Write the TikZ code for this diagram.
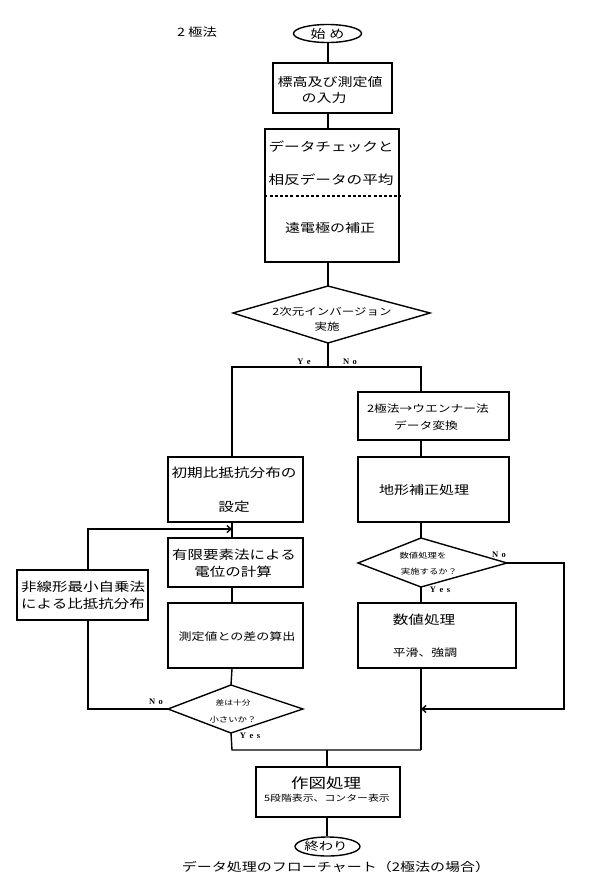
\documentclass[tikz,border=0pt]{standalone}
\usepackage{fontspec}
\setmainfont{Noto Sans CJK JP}
\newfontfamily\jpf[FakeStretch=1.25]{Noto Sans CJK JP}
\newfontfamily\latf{Liberation Serif}
\usetikzlibrary{arrows.meta,shapes.geometric}
\newcommand\fsz[1]{\fontsize{#1pt}{#1pt}\selectfont}
\newcommand\gp{\hspace{3.5pt}}
\begin{document}
\begin{tikzpicture}[x=1pt,y=-1pt,
  ln/.style={line width=1.4pt},
  bx/.style={draw, line width=1.4pt, inner sep=0pt},
  tx/.style={inner sep=0pt, font={\jpf\fsz{#1}}},
  lb/.style={inner sep=0pt, font={\latf\bfseries\fsz{8.5}}},
  arr/.style={-{Straight Barb[length=4pt,width=7pt]}}]
\fill[white] (0,0) rectangle (596,896);
\useasboundingbox (0,0) rectangle (596,896);
% column / level coordinates
\coordinate (cM) at (328,0);
\coordinate (cL) at (232,0);
\coordinate (cR) at (421,0);
\coordinate (cN) at (88,0);
\coordinate (cE) at (327,0);
\coordinate (cF) at (564,0);
\coordinate (ySp) at (0,367);
\coordinate (yLp) at (0,529);
\coordinate (yAr) at (0,709);
\coordinate (yMg) at (0,750);
\coordinate (yDs) at (0,196);
% title
\node[tx=11.5] (title) at (197,32) {2 極法};
% start
\node[bx, ellipse, minimum width=68pt, minimum height=18pt] (st) at (327.5,33.5) {};
\node[tx=12] (stt) at (327.5,33.5) {始\hspace{4pt}め};
% input box
\node[bx, minimum width=119pt, minimum height=50pt] (b1) at (332.5,88) {};
\node[tx=12] (b1a) at (330,82) {標高及び測定値};
\node[tx=12] (b1b) at (324,98) {の入力};
% check box
\node[bx, minimum width=134pt, minimum height=133pt] (b2) at (332,195.5) {};
\node[tx=12.5] (b2a) at (331,147) {データチェックと};
\node[tx=12.5] (b2b) at (331,180) {相反データの平均};
\node[tx=12] (b2c) at (330,228) {遠電極の補正};
\draw[ln, dash pattern=on 3pt off 2.2pt] (b2.west |- yDs) -- (b2.east |- yDs);
% decision 1
\coordinate (d1t) at (328,286);
\coordinate (d1r) at (430,313);
\coordinate (d1b) at (328,343);
\coordinate (d1l) at (233,313);
\draw[ln] (d1t) -- (d1r) -- (d1b) -- (d1l) -- cycle;
\node[tx=10] (d1x) at (332,312) {2次元インバージョン};
\node[tx=10] (d1y) at (327,327) {実施};
\node[lb] (ye) at (304,362) {Y\gp e};
\node[lb] (no1) at (350,362) {N\gp o};
% right column
\node[bx, minimum width=151pt, minimum height=48pt] (r1) at (433.5,416) {};
\node[tx=10.2] (r1a) at (428,409) {2極法→ウエンナー法};
\node[tx=10.2] (r1b) at (426,426) {データ変換};
\node[bx, minimum width=151pt, minimum height=65pt] (r2) at (433.5,489.5) {};
\node[tx=12] (r2a) at (424,490) {地形補正処理};
\coordinate (d2t) at (421,538);
\coordinate (d2r) at (507,563);
\coordinate (d2b) at (421,587);
\coordinate (d2l) at (358,563);
\draw[ln] (d2t) -- (d2r) -- (d2b) -- (d2l) -- cycle;
\node[tx=7.5] (d2x) at (423,556) {数値処理を};
\node[tx=7.5] (d2y) at (429,572) {実施するか？};
\node[lb] (no2) at (499,555) {N\gp o};
\node[lb] (yes2) at (440,590) {Y\gp e\gp s};
\node[bx, minimum width=158pt, minimum height=65pt] (r3) at (437,635.5) {};
\node[tx=12.5] (r3a) at (424,620) {数値処理};
\node[tx=10.3] (r3b) at (425,653) {平滑、強調};
% left column
\node[bx, minimum width=135pt, minimum height=65pt] (l1) at (235.5,489.5) {};
\node[tx=12.5] (l1a) at (234,473) {初期比抵抗分布の};
\node[tx=12.5] (l1b) at (234,507) {設定};
\node[bx, minimum width=135pt, minimum height=49pt] (l2) at (235.5,562.5) {};
\node[tx=12.4] (l2a) at (234,555) {有限要素法による};
\node[tx=12.4] (l2b) at (233,572) {電位の計算};
\node[bx, minimum width=135pt, minimum height=65pt] (l3) at (235.5,635.5) {};
\node[tx=10.4] (l3a) at (237,637) {測定値との差の算出};
\coordinate (d3t) at (231,685);
\coordinate (d3r) at (303,709);
\coordinate (d3b) at (231,733);
\coordinate (d3l) at (168,709);
\draw[ln] (d3t) -- (d3r) -- (d3b) -- (d3l) -- cycle;
\node[tx=7] (d3x) at (233,703) {差は十分};
\node[tx=7.5] (d3y) at (233,720) {小さいか？};
\node[lb] (no3) at (156,702) {N\gp o};
\node[lb] (yes3) at (250,736) {Y\gp e\gp s};
\node[bx, minimum width=131pt, minimum height=50pt] (nl) at (82.5,595) {};
\node[tx=12.4] (nla) at (83,587) {非線形最小自乗法};
\node[tx=12.4] (nlb) at (83,604) {による比抵抗分布};
% output
\node[bx, minimum width=144pt, minimum height=50pt] (e1) at (328,792) {};
\node[tx=14] (e1a) at (326,783) {作図処理};
\node[tx=8.7] (e1b) at (327,798) {5段階表示、コンター表示};
\node[bx, ellipse, minimum width=65pt, minimum height=19pt] (en) at (327.5,846.5) {};
\node[tx=11.5] (ent) at (326,846) {終わり};
\node[tx=12] (cap) at (336,867) {データ処理のフローチャート（2極法の場合）};
% connectors main
\draw[ln] (st.south -| cM) -- (b1.north -| cM);
\draw[ln] (b1.south -| cM) -- (b2.north -| cM);
\draw[ln] (b2.south -| cM) -- (d1t);
\draw[ln] (d1b) -- (d1b |- ySp);
\draw[ln] (l1.north -| cL) -- (cL |- ySp) -- (cR |- ySp) -- (r1.north -| cR);
% right
\draw[ln] (r1.south -| cR) -- (r2.north -| cR);
\draw[ln] (r2.south -| cR) -- (d2t);
\draw[ln] (d2b) -- (r3.north -| cR);
\draw[ln, arr] (d2r) -- (cF |- d2r) -- (cF |- yAr) -- (cR |- yAr);
\draw[ln] (r3.south -| cR) -- (cR |- yMg);
% left
\draw[ln] (l1.south -| cL) -- (l2.north -| cL);
\draw[ln] (l2.south -| cL) -- (l3.north -| cL);
\draw[ln] (l3.south -| cL) -- (d3t);
\draw[ln] (d3l) -- (cN |- d3l) -- (nl.south -| cN);
\draw[ln, arr] (nl.north -| cN) -- (cN |- yLp) -- (cL |- yLp);
% merge
\draw[ln] (d3b) -- (cL |- yMg) -- (cR |- yMg);
\draw[ln] (cE |- yMg) -- (e1.north -| cE);
\draw[ln] (e1.south -| cE) -- (en.north -| cE);
\end{tikzpicture}
\end{document}
